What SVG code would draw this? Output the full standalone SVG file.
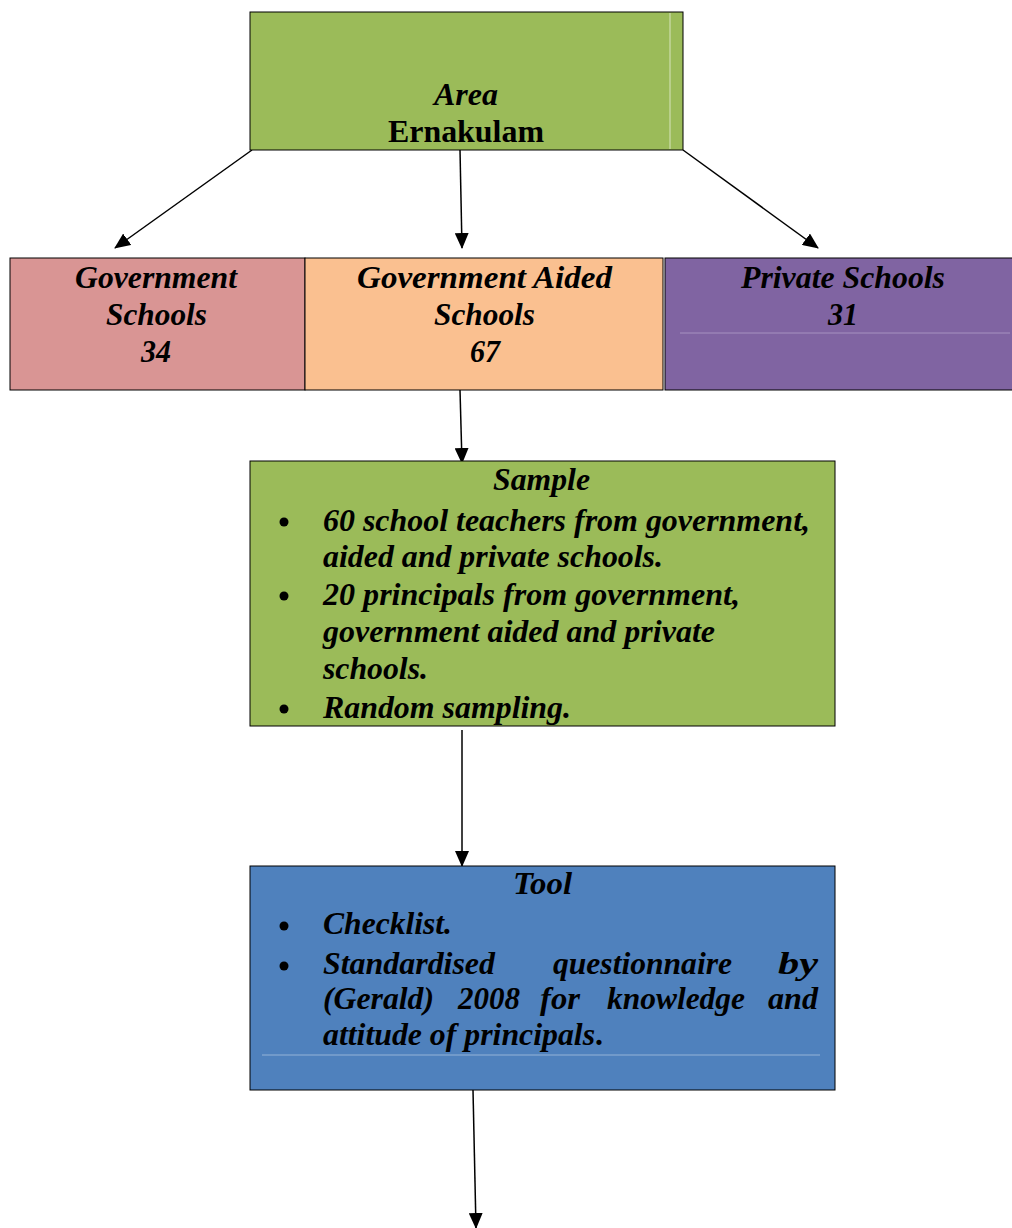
<svg xmlns="http://www.w3.org/2000/svg" width="1012" height="1228" viewBox="0 0 1012 1228">
<style>
.t{font-family:"Liberation Serif","DejaVu Serif",serif;font-weight:bold;font-style:italic;font-size:31px;fill:#000}
.c{text-anchor:middle}
.n{font-style:normal}
.b{stroke:#000;stroke-width:1}
.e{stroke:#000;stroke-width:1.5;fill:none;marker-end:url(#ah)}
</style>
<defs>
<marker id="ah" markerWidth="16" markerHeight="14" refX="15" refY="7" orient="auto" markerUnits="userSpaceOnUse" viewBox="0 0 16 14">
<path d="M0,0 L16,7 L0,14 Z" fill="#000"/>
</marker>
</defs>
<rect width="1012" height="1228" fill="#fff"/>
<g id="connectors">
<line class="e" x1="252" y1="150" x2="115" y2="248"/>
<line class="e" x1="460" y1="150" x2="462" y2="248"/>
<line class="e" x1="683" y1="150" x2="818" y2="248"/>
<line class="e" x1="460" y1="390" x2="462" y2="463"/>
<line class="e" x1="462" y1="730" x2="462" y2="866"/>
<line class="e" x1="473" y1="1090" x2="476" y2="1228"/>
</g>
<g id="area">
<rect class="b" x="250" y="12" width="433" height="138" fill="#9BBB59"/>
<line x1="670" y1="13" x2="670" y2="149" stroke="#D7E4BD" stroke-width="1"/>
<text class="t c" x="466" y="105" textLength="64" lengthAdjust="spacingAndGlyphs">Area</text>
<text class="t c n" x="466" y="142" textLength="156" lengthAdjust="spacingAndGlyphs">Ernakulam</text>
</g>
<g id="gov">
<rect class="b" x="10" y="258" width="295" height="132" fill="#D99594"/>
<text class="t" x="75" y="288" textLength="162" lengthAdjust="spacingAndGlyphs">Government</text>
<text class="t" x="106" y="325" textLength="101" lengthAdjust="spacingAndGlyphs">Schools</text>
<text class="t" x="141" y="362" textLength="30" lengthAdjust="spacingAndGlyphs">34</text>
</g>
<g id="aided">
<rect class="b" x="305" y="258" width="358" height="132" fill="#FAC090"/>
<text class="t" x="357" y="288" textLength="255" lengthAdjust="spacingAndGlyphs">Government  Aided</text>
<text class="t" x="434" y="325" textLength="101" lengthAdjust="spacingAndGlyphs">Schools</text>
<text class="t" x="470" y="362" textLength="30" lengthAdjust="spacingAndGlyphs">67</text>
</g>
<g id="private">
<rect class="b" x="665" y="258" width="350" height="132" fill="#8064A2"/>
<line x1="680" y1="333" x2="1010" y2="333" stroke="#A691C0" stroke-width="1"/>
<text class="t" x="741" y="288" textLength="204" lengthAdjust="spacingAndGlyphs">Private Schools</text>
<text class="t" x="828" y="325" textLength="30" lengthAdjust="spacingAndGlyphs">31</text>
</g>
<g id="sample">
<rect class="b" x="250" y="461" width="585" height="265" fill="#9BBB59"/>
<text class="t" x="493" y="490" textLength="97" lengthAdjust="spacingAndGlyphs">Sample</text>
<circle cx="284" cy="522" r="4.5"/>
<text class="t" x="323" y="531" textLength="487" lengthAdjust="spacingAndGlyphs">60 school teachers from government,</text>
<text class="t" x="323" y="567" textLength="340" lengthAdjust="spacingAndGlyphs">aided and private schools.</text>
<circle cx="284" cy="596" r="4.5"/>
<text class="t" x="323" y="605" textLength="417" lengthAdjust="spacingAndGlyphs">20 principals from government,</text>
<text class="t" x="323" y="642" textLength="392" lengthAdjust="spacingAndGlyphs">government aided and private</text>
<text class="t" x="323" y="679" textLength="105" lengthAdjust="spacingAndGlyphs">schools.</text>
<circle cx="284" cy="709" r="4.5"/>
<text class="t" x="323" y="718" textLength="248" lengthAdjust="spacingAndGlyphs">Random sampling.</text>
</g>
<g id="tool">
<rect class="b" x="250" y="866" width="585" height="224" fill="#4F81BD"/>
<line x1="262" y1="1055" x2="820" y2="1055" stroke="#95B3D7" stroke-width="1"/>
<text class="t" x="513" y="894" textLength="59" lengthAdjust="spacingAndGlyphs">Tool</text>
<circle cx="284" cy="926" r="4.5"/>
<text class="t" x="323" y="934" textLength="129" lengthAdjust="spacingAndGlyphs">Checklist.</text>
<circle cx="284" cy="966" r="4.5"/>
<text class="t" x="323" y="974" textLength="172" lengthAdjust="spacingAndGlyphs">Standardised</text>
<text class="t" x="553" y="974" textLength="179" lengthAdjust="spacingAndGlyphs">questionnaire</text>
<text class="t" x="778" y="974" textLength="40" lengthAdjust="spacingAndGlyphs">by</text>
<text class="t" x="323" y="1009" textLength="111" lengthAdjust="spacingAndGlyphs">(Gerald)</text>
<text class="t" x="458" y="1009" textLength="62" lengthAdjust="spacingAndGlyphs">2008</text>
<text class="t" x="540" y="1009" textLength="40" lengthAdjust="spacingAndGlyphs">for</text>
<text class="t" x="607" y="1009" textLength="138" lengthAdjust="spacingAndGlyphs">knowledge</text>
<text class="t" x="768" y="1009" textLength="50" lengthAdjust="spacingAndGlyphs">and</text>
<text class="t" x="323" y="1045" textLength="280" lengthAdjust="spacingAndGlyphs">attitude of principals<tspan style="font-style:normal">.</tspan></text>
</g>
</svg>
